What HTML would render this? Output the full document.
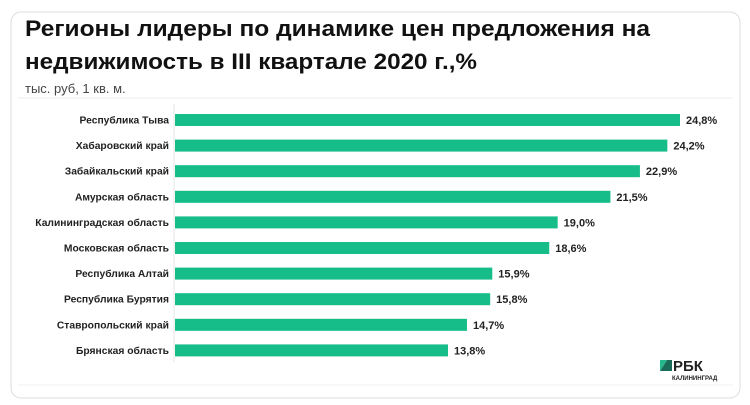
<!DOCTYPE html>
<html><head><meta charset="utf-8"><style>
html,body{margin:0;padding:0;background:#fff;}
svg{display:block;font-family:"Liberation Sans","DejaVu Sans",sans-serif;}
</style></head><body>
<svg id="chart" width="750" height="405" viewBox="0 0 750 405">
<rect x="11" y="12" width="729" height="386" rx="10" fill="#fff" stroke="#dcdcdc"/>
<text x="25" y="36" font-size="22" font-weight="bold" fill="#111" textLength="625" lengthAdjust="spacingAndGlyphs">Регионы лидеры по динамике цен предложения на</text>
<text x="25" y="69" font-size="22" font-weight="bold" fill="#111" textLength="452" lengthAdjust="spacingAndGlyphs">недвижимость в III квартале 2020 г.,%</text>
<text x="25" y="93" font-size="13" fill="#444">тыс. руб, 1 кв. м.</text>
<line x1="18" y1="98" x2="733" y2="98" stroke="#ececec"/>
<line x1="174" y1="104" x2="174" y2="362" stroke="#e5e5e5"/>
<g id="bars"></g>
<g>
<polygon points="660,371 667,360 672,360 672,371" fill="#1a6b5a"/>
<polygon points="660,371 660,360 667,360" fill="#25b88c"/>
<text x="673" y="371" font-size="15" font-weight="bold" fill="#222">РБК</text>
<text x="672" y="380" font-size="6" font-weight="bold" fill="#222">КАЛИНИНГРАД</text>
</g>
<line x1="18" y1="385" x2="733" y2="385" stroke="#f0f0f0"/>
</svg>
<script>
const categories=["Республика Тыва","Хабаровский край","Забайкальский край","Амурская область","Калининградская область","Московская область","Республика Алтай","Республика Бурятия","Ставропольский край","Брянская область"];
const values=[24.8,24.2,22.9,21.5,19.0,18.6,15.9,15.8,14.7,13.8];
const valueLabels=["24,8%","24,2%","22,9%","21,5%","19,0%","18,6%","15,9%","15,8%","14,7%","13,8%"];
const NS="http://www.w3.org/2000/svg";
const x0=175;
function xScale(v){return 448+(v-13.8)*(680-448)/(24.8-13.8);}
function yScale(i){return 120+i*25.6;}
const g=document.getElementById('bars');
categories.forEach((c,i)=>{
  const y=yScale(i);
  const t=document.createElementNS(NS,'text');
  t.setAttribute('x',169);t.setAttribute('y',y+3.5);t.setAttribute('text-anchor','end');
  t.setAttribute('font-size','10.3');t.setAttribute('font-weight','bold');t.setAttribute('fill','#222');
  t.textContent=c;
  
  
  g.appendChild(t);
  const r=document.createElementNS(NS,'rect');
  const xe=Math.min(xScale(values[i]),680);
  r.setAttribute('x',x0);r.setAttribute('y',y-6);r.setAttribute('width',xe-x0);r.setAttribute('height',12);
  r.setAttribute('fill','#17bd88');
  
  
  g.appendChild(r);
  const v=document.createElementNS(NS,'text');
  v.setAttribute('x',xe+6);v.setAttribute('y',y+4);
  v.setAttribute('font-size','11');v.setAttribute('font-weight','bold');v.setAttribute('fill','#222');
  v.textContent=valueLabels[i];
  
  
  g.appendChild(v);
});
</script>
</body></html>
